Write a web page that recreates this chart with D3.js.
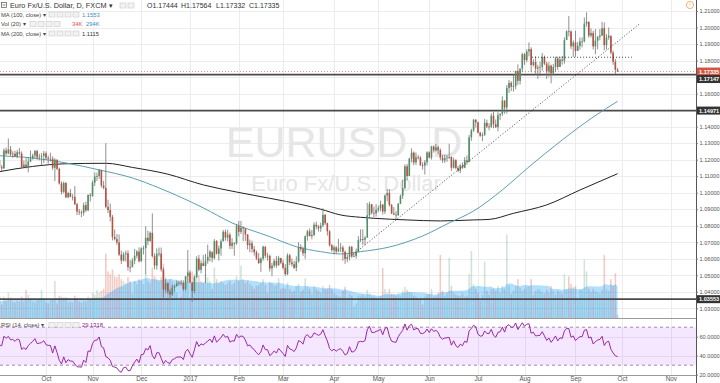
<!DOCTYPE html>
<html><head><meta charset="utf-8">
<script src="https://cdn.jsdelivr.net/npm/d3@7"></script>
<style>
body{margin:0;background:#fff;overflow:hidden}
svg{display:block}
text{font-family:"Liberation Sans",Arial,sans-serif}
</style>
</head><body>
<svg id="c" width="720" height="383"></svg>
<script>
// ---------------- DATA ----------------
const firstDate = "2016-08-11";      // first bar (warm-up bars lie left of the view)
const firstOpen = 1.1142;
const closes = [
1.1137,1.1160,1.1183,1.1287,1.1290,1.1353,1.1324,1.1317,1.1307,1.1266,1.1285,1.1198,1.1193,1.1147,1.1156,
1.1196,1.1155,1.1147,1.1256,1.1237,1.1262,1.1232,1.1236,1.1220,1.1245,1.1237,1.1155,1.1170,1.1153,1.1188,1.1207,1.1225,1.1252,1.1214,1.1218,1.1223,1.1238,
1.1211,1.1206,1.1206,1.1151,1.1200,1.1144,1.1056,1.1005,1.1059,1.0972,1.0998,1.0975,1.0975,1.0930,1.0886,1.0881,1.0878,1.0924,1.0893,1.0986,1.0981,
1.1060,1.1098,1.1101,1.1138,1.1044,1.1030,1.0914,1.0895,1.0854,1.0732,1.0719,1.0699,1.0625,1.0589,1.0627,1.0633,1.0550,1.0548,1.0588,1.0618,1.0644,1.0585,
1.0662,1.0665,1.0727,1.0708,1.0757,1.0616,1.0559,1.0630,1.0632,1.0535,1.0413,1.0452,1.0401,1.0384,1.0425,1.0436,1.0452,1.0455,1.0453,1.0415,1.0494,1.0517,
1.0456,1.0404,1.0488,1.0601,1.0533,1.0573,1.0556,1.0588,1.0611,1.0643,1.0604,1.0707,1.0630,1.0662,1.0706,1.0763,1.0728,1.0746,1.0678,1.0696,1.0694,1.0798,
1.0763,1.0788,1.0784,1.0747,1.0682,1.0693,1.0659,1.0639,1.0601,1.0574,1.0601,1.0673,1.0618,1.0617,1.0541,1.0558,1.0587,1.0560,1.0605,1.0576,
1.0545,1.0507,1.0621,1.0578,1.0567,1.0545,1.0583,1.0670,1.0659,1.0633,1.0736,1.0766,1.0737,1.0744,1.0806,1.0795,1.0784,1.0801,1.0866,1.0815,1.0766,1.0682,1.0652,
1.0669,1.0644,1.0662,1.0668,1.0642,1.0599,1.0610,1.0672,1.0614,1.0617,1.0643,1.0713,1.0719,1.0716,1.0727,1.0863,1.0930,1.0878,1.0875,1.0895,
1.0905,1.0928,1.0886,1.0983,1.0999,1.0926,1.0875,1.0867,1.0864,1.0933,1.0981,1.1028,1.1160,1.1101,1.1206,1.1242,1.1183,1.1214,1.1213,1.1167,1.1164,1.1184,1.1244,
1.1212,1.1280,1.1256,1.1274,1.1258,1.1212,1.1196,1.1209,1.1213,1.1216,1.1151,1.1197,1.1150,1.1133,1.1165,1.1151,1.1196,1.1186,1.1335,1.1376,1.1441,1.1426,
1.1363,1.1345,1.1349,1.1423,1.1401,1.1400,1.1466,1.1415,1.1397,1.1469,1.1478,1.1558,1.1515,1.1634,1.1665,1.1642,1.1645,1.1736,1.1677,1.1751,1.1838,
1.1803,1.1855,1.1869,1.1773,1.1791,1.1751,1.1758,1.1762,1.1822,1.1781,1.1734,1.1769,1.1722,1.1761,1.1813,1.1761,1.1806,1.1799,1.1924,1.1977,1.1976,1.1886,1.1909,
1.1858,1.1888,1.1916,1.1916,1.2023,1.2035,1.1951,1.1967,1.1886,1.1920,1.1943,1.1951,1.1996,1.1893,1.1939,1.1951,1.1848,1.1793,1.17444,1.17335
];
const highs = [
1.1185,1.1190,1.1193,1.1300,1.1305,1.1366,1.1352,1.1340,1.1334,1.1316,1.1298,1.1341,1.1221,1.1197,1.1166,
1.1201,1.1239,1.1168,1.1268,1.1273,1.1328,1.1283,1.1251,1.1254,1.1258,1.1270,1.1250,1.1194,1.1212,1.1215,1.1255,1.1237,1.1259,1.1260,1.1235,1.1240,1.1252,
1.1250,1.1225,1.1242,1.1220,1.1208,1.1200,1.1152,1.1067,1.1068,1.1063,1.1006,1.1022,1.0991,1.1040,1.0939,1.0902,1.0893,1.0940,1.0945,1.0990,1.0998,
1.1074,1.1123,1.1122,1.1143,1.1132,1.1072,1.1300,1.0958,1.0934,1.0865,1.0777,1.0749,1.0747,1.0650,1.0640,1.0648,1.0651,1.0592,1.0603,1.0659,1.0652,1.0669,
1.0670,1.0679,1.0797,1.0770,1.0765,1.0874,1.0633,1.0663,1.0668,1.0668,1.0547,1.0477,1.0452,1.0418,1.0443,1.0445,1.0468,1.0465,1.0473,1.0470,1.0496,1.0653,
1.0530,1.0459,1.0497,1.0615,1.0623,1.0590,1.0624,1.0629,1.0685,1.0653,1.0633,1.0719,1.0713,1.0680,1.0718,1.0774,1.0776,1.0775,1.0758,1.0724,1.0700,1.0811,
1.0829,1.0829,1.0796,1.0775,1.0749,1.0716,1.0710,1.0678,1.0650,1.0634,1.0609,1.0679,1.0675,1.0637,1.0626,1.0575,1.0600,1.0616,1.0618,1.0605,
1.0594,1.0567,1.0633,1.0630,1.0602,1.0588,1.0615,1.0700,1.0688,1.0673,1.0741,1.0775,1.0783,1.0775,1.0820,1.0825,1.0805,1.0819,1.0906,1.0872,1.0819,1.0773,1.0690,
1.0681,1.0677,1.0720,1.0695,1.0680,1.0650,1.0625,1.0678,1.0677,1.0634,1.0662,1.0737,1.0778,1.0778,1.0737,1.0938,1.0945,1.0931,1.0916,1.0930,
1.0921,1.0951,1.0931,1.0990,1.1022,1.1021,1.0932,1.0913,1.0888,1.0937,1.0989,1.1078,1.1171,1.1174,1.1212,1.1268,1.1250,1.1243,1.1229,1.1221,1.1185,1.1198,1.1251,
1.1251,1.1284,1.1286,1.1296,1.1283,1.1268,1.1229,1.1230,1.1228,1.1296,1.1220,1.1212,1.1203,1.1164,1.1175,1.1183,1.1215,1.1225,1.1350,1.1387,1.1446,1.1446,
1.1430,1.1369,1.1364,1.1446,1.1442,1.1421,1.1480,1.1490,1.1443,1.1487,1.1479,1.1583,1.1559,1.1652,1.1683,1.1675,1.1712,1.1739,1.1777,1.1752,1.1847,
1.1846,1.1868,1.1910,1.1880,1.1807,1.1825,1.1774,1.1792,1.1846,1.1830,1.1793,1.1791,1.1776,1.1780,1.1823,1.1824,1.1823,1.1828,1.1941,1.1983,1.2070,1.1983,1.1922,
1.1980,1.1913,1.1940,1.1940,1.2060,1.2092,1.2035,1.1994,1.1980,1.1990,1.1949,1.1990,1.2034,1.2031,1.1960,1.2000,1.1940,1.1860,1.1810,1.17564
];
const lows = [
1.1125,1.1130,1.1150,1.1176,1.1255,1.1285,1.1295,1.1285,1.1293,1.1253,1.1253,1.1185,1.1176,1.1141,1.1123,
1.1123,1.1146,1.1130,1.1145,1.1225,1.1233,1.1222,1.1211,1.1216,1.1208,1.1226,1.1150,1.1152,1.1147,1.1123,1.1185,1.1200,1.1207,1.1199,1.1196,1.1164,1.1180,
1.1198,1.1175,1.1189,1.1138,1.1070,1.1137,1.1049,1.0990,1.0996,1.0967,1.0966,1.0973,1.0953,1.0925,1.0865,1.0865,1.0852,1.0861,1.0882,1.0888,1.0947,
1.0975,1.1040,1.1071,1.1083,1.1030,1.1020,1.0906,1.0877,1.0826,1.0711,1.0711,1.0685,1.0617,1.0568,1.0584,1.0582,1.0528,1.0518,1.0553,1.0567,1.0603,1.0577,
1.0582,1.0626,1.0505,1.0682,1.0702,1.0607,1.0536,1.0534,1.0614,1.0522,1.0366,1.0394,1.0385,1.0352,1.0375,1.0401,1.0429,1.0437,1.0438,1.0400,1.0405,1.0455,
1.0453,1.0340,1.0390,1.0485,1.0524,1.0512,1.0555,1.0454,1.0570,1.0584,1.0578,1.0595,1.0626,1.0589,1.0618,1.0705,1.0709,1.0705,1.0658,1.0659,1.0618,1.0685,
1.0735,1.0750,1.0706,1.0708,1.0656,1.0640,1.0638,1.0619,1.0592,1.0569,1.0521,1.0588,1.0605,1.0589,1.0523,1.0494,1.0546,1.0545,1.0558,1.0567,
1.0535,1.0495,1.0501,1.0562,1.0553,1.0536,1.0525,1.0576,1.0643,1.0617,1.0600,1.0709,1.0735,1.0718,1.0736,1.0778,1.0765,1.0763,1.0792,1.0805,1.0740,1.0674,1.0643,
1.0627,1.0630,1.0640,1.0640,1.0588,1.0569,1.0579,1.0590,1.0605,1.0610,1.0601,1.0640,1.0701,1.0683,1.0681,1.0821,1.0850,1.0868,1.0851,1.0855,
1.0882,1.0887,1.0868,1.0871,1.0949,1.0915,1.0870,1.0865,1.0838,1.0859,1.0932,1.0962,1.1021,1.1075,1.1101,1.1185,1.1166,1.1168,1.1201,1.1162,1.1140,1.1110,1.1165,
1.1208,1.1200,1.1243,1.1249,1.1233,1.1196,1.1181,1.1180,1.1187,1.1203,1.1132,1.1146,1.1141,1.1124,1.1119,1.1144,1.1148,1.1170,1.1183,1.1314,1.1368,1.1394,
1.1359,1.1338,1.1312,1.1344,1.1391,1.1377,1.1391,1.1390,1.1392,1.1371,1.1440,1.1465,1.1478,1.1479,1.1604,1.1614,1.1612,1.1626,1.1653,1.1655,1.1729,
1.1774,1.1790,1.1825,1.1729,1.1764,1.1713,1.1689,1.1705,1.1738,1.1772,1.1688,1.1702,1.1662,1.1711,1.1731,1.1742,1.1761,1.1775,1.1781,1.1924,1.1946,1.1870,1.1823,
1.1823,1.1862,1.1866,1.1880,1.1910,1.2005,1.1938,1.1940,1.1867,1.1838,1.1868,1.1923,1.1949,1.1862,1.1867,1.1925,1.1837,1.1774,1.1717,1.17332
];
// volume in thousands
const volumes = [
150,160,140,210,190,200,170,150,160,170,160,230,150,170,180,
200,230,140,220,190,260,210,170,160,180,170,220,170,290,240,200,170,160,180,190,290,190,
160,150,180,190,380,150,230,220,200,210,160,170,160,230,200,170,160,180,170,220,200,
260,240,290,260,280,300,663,480,450,500,430,420,450,400,380,360,420,380,250,380,350,400,
380,350,450,380,360,520,430,400,380,420,560,420,380,400,380,280,260,200,220,260,280,490,
200,480,450,480,440,380,360,450,420,380,300,520,400,360,380,360,340,360,380,340,360,430,
380,540,400,360,380,350,330,300,330,340,360,400,340,260,370,360,330,340,410,300,
310,300,360,300,270,280,330,350,270,290,410,330,300,250,330,300,280,260,330,300,300,340,300,
260,240,230,220,280,320,210,250,230,120,150,230,230,240,220,290,250,220,220,210,
200,230,515,300,260,300,250,240,230,240,230,280,320,290,270,260,230,220,200,210,140,220,250,
250,300,220,230,260,650,280,230,260,620,330,260,240,230,230,250,220,230,450,690,350,300,
260,180,240,580,280,240,300,300,280,330,260,330,300,860,330,250,280,340,400,310,280,
300,320,330,400,240,280,300,290,270,250,290,260,330,280,240,280,270,250,450,300,430,350,320,
330,200,290,290,600,480,300,270,300,280,270,250,290,650,300,280,400,330,460,34
];
// moving averages: bar number -> value
const ma100Bars = [15,31,46,61,76,88,108,121,138,150,161,170,179,192,207,219,230,243,255,270,284,295];
const ma100Vals = [1.1224,1.1210,1.1180,1.1138,1.1089,1.1029,1.0908,1.0817,1.0734,1.0673,1.0643,1.0629,1.0643,1.0671,1.0738,1.0817,1.0889,1.1017,1.1156,1.1319,1.1458,1.1553];
const ma200Bars = [15,31,46,64,76,92,108,123,138,153,161,170,179,185,200,215,230,237,248,263,278,295];
const ma200Vals = [1.1125,1.1159,1.1175,1.1178,1.1153,1.1112,1.1047,1.1004,1.0966,1.0926,1.0900,1.0865,1.0851,1.0845,1.0835,1.0829,1.0835,1.0838,1.0875,1.0926,1.1016,1.1115];
// drawings
const levels = [1.17147, 1.14971, 1.03553];
const trendBars = [175.6, 305.1];
const trendPrices = [1.0626, 1.2024];
const resistBars = [256.4, 301.5];
const resistPrice = 1.1820;
// axes
const priceTicks = [1.03,1.04,1.05,1.06,1.07,1.08,1.09,1.10,1.11,1.12,1.13,1.14,1.15,1.16,1.17,1.18,1.19,1.20,1.21];
const rsiTicks = [20,40,60,80];
const monthLabels = ["Oct","Nov","Dec","2017","Feb","Mar","Apr","May","Jun","Jul","Aug","Sep","Oct","Nov"];
const monthStarts = ["2016-10","2016-11","2016-12","2017-01","2017-02","2017-03","2017-04","2017-05","2017-06","2017-07","2017-08","2017-09","2017-10","2017-11"];

if (closes.length!==highs.length||closes.length!==lows.length||closes.length!==volumes.length)
  throw new Error("length mismatch "+[closes.length,highs.length,lows.length,volumes.length]);

// ---------------- CALENDAR (weekdays) ----------------
const cal = [];
for (let d = new Date(firstDate+"T12:00:00Z"); d <= new Date("2017-11-30T12:00:00Z"); d = new Date(d.getTime()+864e5)) {
  const wd = d.getUTCDay(); if (wd!==0 && wd!==6) cal.push(d.toISOString().slice(0,10));
}
const bars = closes.map((c,i)=>({i, o: i===0?firstOpen:closes[i-1], h:highs[i], l:lows[i], c, v:volumes[i]}));
const tickIdx = monthStarts.map(m => cal.findIndex(s => s.startsWith(m)));

// ---------------- SCALES ----------------
const W = 720, H = 383, plotR = 696, mainB = 318;
const x = d3.scaleLinear().domain([tickIdx[0], tickIdx[12]]).range([46, 622]);
const y = d3.scaleLinear().domain([1.03, 1.21]).range([308.3, 11]);
const yv = d3.scaleLinear().domain([0, 700]).range([mainB, mainB-68]);
const yr = d3.scaleLinear().domain([20, 80]).range([374.7, 317.7]);

const svg = d3.select("#c");
svg.append("rect").attr("width",W).attr("height",H).attr("fill","#fff");
const defs = svg.append("defs");
defs.append("clipPath").attr("id","mainClip").append("rect").attr("x",0).attr("y",0).attr("width",plotR).attr("height",mainB);
defs.append("clipPath").attr("id","rsiClip").append("rect").attr("x",0).attr("y",319).attr("width",plotR).attr("height",56);

// grid
const grid = svg.append("g");
grid.selectAll(".hg").data(priceTicks).join("line").attr("x1",0).attr("x2",plotR)
  .attr("y1",d=>Math.round(y(d))+0.5).attr("y2",d=>Math.round(y(d))+0.5).attr("stroke","#ececec");
grid.selectAll(".rg").data([40,60]).join("line").attr("x1",0).attr("x2",plotR)
  .attr("y1",d=>Math.round(yr(d))+0.5).attr("y2",d=>Math.round(yr(d))+0.5).attr("stroke","#ececec");
grid.selectAll(".vg").data(tickIdx).join("line").attr("y1",0).attr("y2",375)
  .attr("x1",d=>Math.round(x(d))+0.5).attr("x2",d=>Math.round(x(d))+0.5).attr("stroke","#ececec");

// watermark
svg.append("text").attr("x",344).attr("y",157).attr("text-anchor","middle").attr("font-size",43)
  .attr("fill","#e6e6e6").text("EURUSD, D");
svg.append("text").attr("x",346).attr("y",191).attr("text-anchor","middle").attr("font-size",22)
  .attr("fill","#e6e6e6").text("Euro Fx/U.S. Dollar");

const main = svg.append("g").attr("clip-path","url(#mainClip)");

// volume
const bw = 1.6;
main.append("g").selectAll("rect").data(bars).join("rect")
  .attr("x",d=>x(d.i)-bw/2).attr("width",bw)
  .attr("y",d=>yv(d.v)).attr("height",d=>mainB-yv(d.v))
  .attr("fill",d=>d.c>=d.o?"#6ba583":"#d75442").attr("opacity",0.3);
const vma = bars.map((d,i)=>{const s=volumes.slice(Math.max(0,i-19),i+1);return {i, m:d3.mean(s)};});
main.append("path").datum(vma)
  .attr("d", d3.area().x(d=>x(d.i)).y0(mainB).y1(d=>yv(d.m)))
  .attr("fill","#0496ff").attr("fill-opacity",0.3);

// level lines
main.selectAll(".lvl").data(levels).join("line").attr("x1",0).attr("x2",plotR)
  .attr("y1",d=>y(d)).attr("y2",d=>y(d)).attr("stroke","#4a4a4a").attr("stroke-width",1.6);

// moving averages
const maLine = d3.line().x(d=>x(d[0])).y(d=>y(d[1])).curve(d3.curveMonotoneX);
main.append("path").datum(ma200Bars.map((b,k)=>[b,ma200Vals[k]])).attr("d",maLine)
  .attr("fill","none").attr("stroke","#222").attr("stroke-width",1);
main.append("path").datum(ma100Bars.map((b,k)=>[b,ma100Vals[k]])).attr("d",maLine)
  .attr("fill","none").attr("stroke","#5a9fb3").attr("stroke-width",1);

// candles
const cg = main.append("g");
cg.selectAll("line").data(bars).join("line")
  .attr("x1",d=>x(d.i)).attr("x2",d=>x(d.i)).attr("y1",d=>y(d.h)).attr("y2",d=>y(d.l))
  .attr("stroke","#737375").attr("stroke-width",0.8);
cg.selectAll("rect").data(bars).join("rect")
  .attr("x",d=>x(d.i)-0.8).attr("width",1.6)
  .attr("y",d=>y(Math.max(d.o,d.c))).attr("height",d=>Math.max(0.8,Math.abs(y(d.o)-y(d.c))))
  .attr("fill",d=>d.c>=d.o?"#4f9069":"#b8503f");

// drawings
main.append("line").attr("x1",x(trendBars[0])).attr("x2",x(trendBars[1]))
  .attr("y1",y(trendPrices[0])).attr("y2",y(trendPrices[1]))
  .attr("stroke","#333").attr("stroke-width",0.9).attr("stroke-dasharray","1,2");
main.append("line").attr("x1",x(resistBars[0])).attr("x2",x(resistBars[1]))
  .attr("y1",y(resistPrice)).attr("y2",y(resistPrice))
  .attr("stroke","#333").attr("stroke-width",0.9).attr("stroke-dasharray","1,2");
const last = bars[bars.length-1];
main.append("line").attr("x1",0).attr("x2",plotR).attr("y1",y(last.c)).attr("y2",y(last.c))
  .attr("stroke","#d75442").attr("stroke-opacity",0.6).attr("stroke-dasharray","1,2");

// pane separator
svg.append("line").attr("x1",0).attr("x2",plotR).attr("y1",318.5).attr("y2",318.5).attr("stroke","#9a9a9a");

// RSI
const rsi = [];
{ const n=14; let ag=0, al=0;
  for (let i=1;i<closes.length;i++){
    const ch=closes[i]-closes[i-1], g=Math.max(ch,0), l=Math.max(-ch,0);
    if (i<=n){ ag+=g/n; al+=l/n; if(i===n) rsi.push({i, r:100-100/(1+ag/al)}); }
    else { ag=(ag*(n-1)+g)/n; al=(al*(n-1)+l)/n; rsi.push({i, r:100-100/(1+ag/al)}); }
  } }
const rg = svg.append("g").attr("clip-path","url(#rsiClip)");
rg.append("rect").attr("x",0).attr("width",plotR).attr("y",yr(70)).attr("height",yr(30)-yr(70)).attr("fill","#9915ff").attr("fill-opacity",0.1);
rg.selectAll(".band").data([70,30]).join("line").attr("x1",0).attr("x2",plotR)
  .attr("y1",d=>yr(d)).attr("y2",d=>yr(d)).attr("stroke","#a08aa8").attr("stroke-dasharray","3,3");
rg.append("path").datum(rsi).attr("d",d3.line().x(d=>x(d.i)).y(d=>yr(d.r)))
  .attr("fill","none").attr("stroke","#8e1599").attr("stroke-width",0.9);

// price label boxes (the second one is nudged below the first as in the app)
const last_c = last.c;
const boxes = [
  {v:last_c, cy:y(last_c), fill:"#d75442"},
  {v:levels[0], cy:y(last_c)+7.5, fill:"#333"},
  {v:levels[1], cy:y(levels[1]), fill:"#333"},
  {v:levels[2], cy:y(levels[2]), fill:"#333"}
];

// right axis
svg.append("line").attr("x1",696.5).attr("x2",696.5).attr("y1",0).attr("y2",383).attr("stroke","#555");
const shownTicks = priceTicks.filter(t => boxes.every(b => Math.abs(y(t)-b.cy) > 6));
const pa = svg.append("g").attr("transform","translate(696,0)")
  .call(d3.axisRight(y).tickValues(shownTicks).tickFormat(d3.format(".5f")).tickSize(2));
const ra = svg.append("g").attr("transform","translate(696,0)")
  .call(d3.axisRight(yr).tickValues(rsiTicks.filter(t=>t<80)).tickFormat(d3.format(".4f")).tickSize(2));
[pa,ra].forEach(a=>{a.select(".domain").remove();
  a.selectAll("text").attr("font-size",5.6).attr("fill","#555").attr("x",3.5);
  a.selectAll("line").attr("stroke","#777");});

const bg = svg.append("g");
bg.selectAll("rect").data(boxes).join("rect").attr("x",697).attr("width",23)
  .attr("y",d=>d.cy-4).attr("height",8).attr("fill",d=>d.fill);
bg.selectAll("text").data(boxes).join("text").attr("x",699).attr("y",d=>d.cy+2)
  .attr("font-size",5.6).attr("fill","#fff").attr("font-weight","bold").text(d=>d3.format(".5f")(d.v));

// time axis
svg.append("line").attr("x1",0).attr("x2",plotR).attr("y1",375.5).attr("y2",375.5).attr("stroke","#9a9a9a");
const ta = svg.append("g").attr("transform","translate(0,375)")
  .call(d3.axisBottom(x).tickValues(tickIdx).tickFormat((d,k)=>monthLabels[k]).tickSize(0));
ta.select(".domain").remove();
ta.selectAll("text").attr("font-size",6.3).attr("fill","#555").attr("dy","0.5em");

// header / legend
const hd = svg.append("g");
function icons(x0, yc, n){ for(let k=0;k<n;k++) hd.append("rect").attr("x",x0+k*8).attr("y",yc-2.5).attr("width",6).attr("height",5)
  .attr("fill","#f2f2f2").attr("stroke","#c8c8c8").attr("stroke-width",0.6); }
hd.append("rect").attr("x",1.5).attr("y",2.5).attr("width",5).attr("height",5).attr("fill","none").attr("stroke","#555").attr("stroke-width",0.7);
hd.append("line").attr("x1",2.5).attr("x2",5.5).attr("y1",5).attr("y2",5).attr("stroke","#555").attr("stroke-width",0.7);
hd.append("text").attr("x",10).attr("y",8).attr("font-size",7.3).attr("fill","#333").text("Euro Fx/U.S. Dollar, D, FXCM \u25BE");
icons(120,5.5,2);
const ohlc = [["O",last.o,147],["H",last.h,181],["L",last.l,216],["C",last.c,249]];
ohlc.forEach(([k,v,px])=>hd.append("text").attr("x",px).attr("y",8).attr("font-size",7).attr("fill","#333").text(k+d3.format(".5f")(v)));
const legend = [
  {label:"MA (100, close) \u25BE", yc:14.5, ix:49, vals:[{t:"1.1553",c:"#3a8fc4",x:82}]},
  {label:"Vol (20) \u25BE", yc:24, ix:30, vals:[{t:"34K",c:"#d75442",x:72},{t:"294K",c:"#3a8fc4",x:86}]},
  {label:"MA (200, close) \u25BE", yc:33.5, ix:49, vals:[{t:"1.1115",c:"#333",x:82}]},
  {label:"RSI (14, close) \u25BE", yc:325, ix:49, vals:[{t:"29.1318",c:"#8e1599",x:82}]}
];
legend.forEach(l=>{
  hd.append("text").attr("x",1).attr("y",l.yc+2).attr("font-size",5.8).attr("fill","#444").text(l.label);
  icons(l.ix,l.yc,4);
  l.vals.forEach(v=>hd.append("text").attr("x",v.x).attr("y",l.yc+2).attr("font-size",5.8).attr("fill",v.c).text(v.t));
});
// alert icon
hd.append("circle").attr("cx",690).attr("cy",5).attr("r",3.6).attr("fill","none").attr("stroke","#f0a050").attr("stroke-width",0.8);
hd.append("text").attr("x",690).attr("y",7.2).attr("text-anchor","middle").attr("font-size",5.5).attr("fill","#f0a050").text("!");
</script>
</body></html>
